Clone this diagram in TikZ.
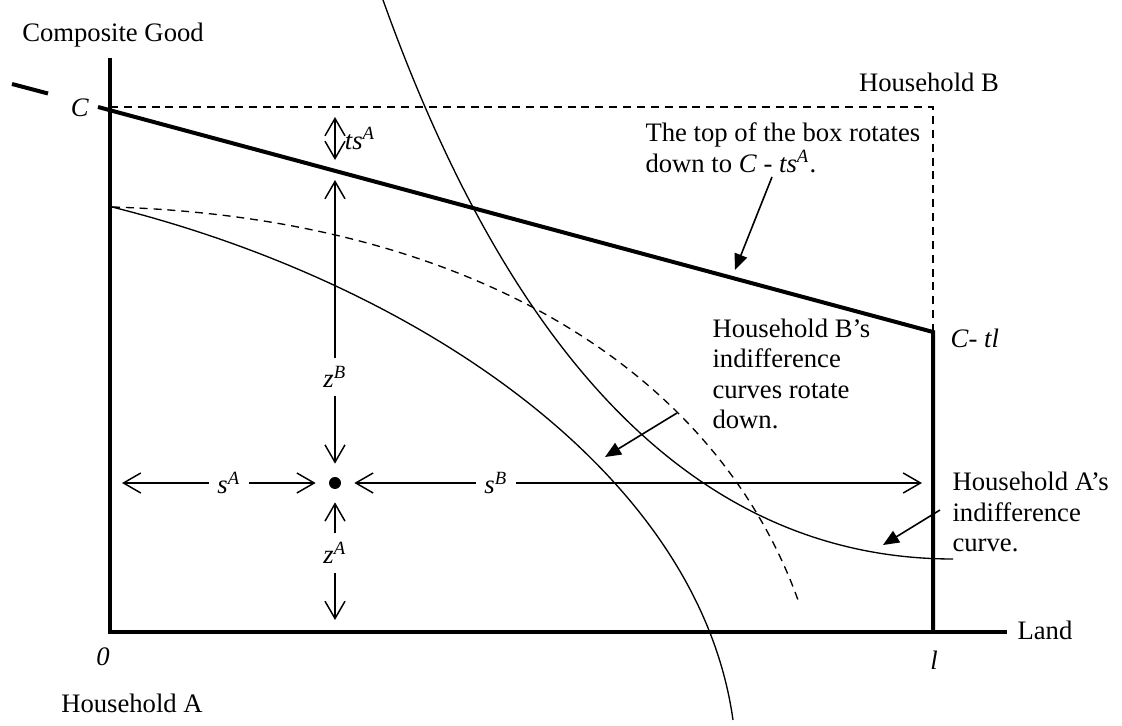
\documentclass[tikz,border=0pt]{standalone}
\usepackage{fontspec}
\setmainfont{Liberation Serif}
\usetikzlibrary{arrows.meta,positioning,calc}
\newcommand{\supit}[2]{\textit{#1}\textsuperscript{\textit{#2}}}

\begin{document}
\begin{tikzpicture}[x=0.375pt,y=-0.375pt,font=\fontsize{10}{11.4}\selectfont,
  >={Straight Barb[length=6.5pt,width=7.5pt]},
  axis/.style={line width=1.5pt},
  boxdash/.style={line width=0.7pt,dash pattern=on 3pt off 2.2pt},
  curve/.style={line width=0.5pt},
  dim/.style={line width=0.55pt,->},
  ptr/.style={line width=0.6pt,-{Triangle[length=6pt,width=5pt]}},
  note/.style={align=left,anchor=west,inner sep=0pt},
  lab/.style={inner sep=3pt}]
\useasboundingbox (0,0) rectangle (1122,726);
\coordinate (ytop) at (110,58);
\coordinate (xend) at (1007,632);
\coordinate (L) at (933,632);
\coordinate (Ltl) at (933,332);
\coordinate (Cpt) at (98,107);
\coordinate (TL) at (110,107);
\coordinate (TR) at (933,107);
\draw[axis] (ytop) |- (xend);
\draw[axis] (L) -- (Ltl) -- (Cpt);
\draw[axis] (12,84) -- (48,93.5);
\draw[boxdash] (TL) -- (TR) -- (Ltl);
% indifference curves
\draw[curve] (383,0) .. controls (484,282) and (653,559) .. (953,559);
\draw[curve] (112,207) .. controls (412,282) and (698,470) .. (733,720);
\draw[curve,dash pattern=on 3pt off 2.2pt] (112,207) .. controls (462,217.5) and (713,365) .. (798,600);
% labels
\node (yl) at (113,35) {Composite Good};
\node (hB) at (929,82) {Household B};
\node (hA) at (132,703) {Household A};
\node[note] (xl) at (1017,630) {Land};
\node (Cl) at (80,108) {\textit{C}};
\node (zero) at (103,657) {\textit{0}};
\node (ell) at (934,660) {\textit{l}};
\node[note] (Ctl) at (950,338) {\textit{C}- \textit{tl}};
% allocation point
\node[circle,fill,inner sep=0pt,minimum size=4.5pt,outer sep=5pt] (pt) at (335,483) {};
\node[lab] (sA) at (229,483) {\supit{s}{A}};
\node[lab] (sB) at (496,483) {\supit{s}{B}};
\node[lab] (zB) at (335,377) {\supit{z}{B}};
\node[lab] (zA) at (335,553) {\supit{z}{A}};
\coordinate (sAl) at (122,483);
\coordinate (sBr) at (922,483);
\coordinate (zBt) at (335,180);
\coordinate (zAb) at (335,620);
\draw[dim] (sA.west) -- (sAl);
\draw[dim] (sA.east) -- (pt.west);
\draw[dim] (sB.west) -- (pt.east);
\draw[dim] (sB.east) -- (sBr);
\draw[dim] (zB.north) -- (zBt);
\draw[dim] (zB.south) -- (pt.north);
\draw[dim] (zA.north) -- (pt.south);
\draw[dim] (zA.south) -- (zAb);
\coordinate (tsT) at (335,117);
\coordinate (tsB) at (335,160);
\coordinate (tsM) at ($(tsT)!0.5!(tsB)$);
\draw[dim,<->] (tsT) -- (tsB);
\node[right=3.5pt of tsM,inner sep=0pt] (tsl) {\supit{ts}{A}};
% notes
\node[note] (topn) at (645,148) {The top of the box rotates\\down to \textit{C} - \supit{ts}{A}.};
\node[note] (Bn) at (712,374) {Household B’s\\indifference\\curves rotate\\down.};
\node[note] (An) at (952,512) {Household A’s\\indifference\\curve.};
\coordinate (topT) at (735,270);
\coordinate (BT) at (605,457);
\coordinate (AT) at (883,545);
\draw[ptr] ($(topn.west)+(127,29)$) -- (topT);
\draw[ptr] ($(Bn.west)+(-35,39)$) -- (BT);
\draw[ptr] ($(An.west)+(-12,-2)$) -- (AT);
\end{tikzpicture}
\end{document}
